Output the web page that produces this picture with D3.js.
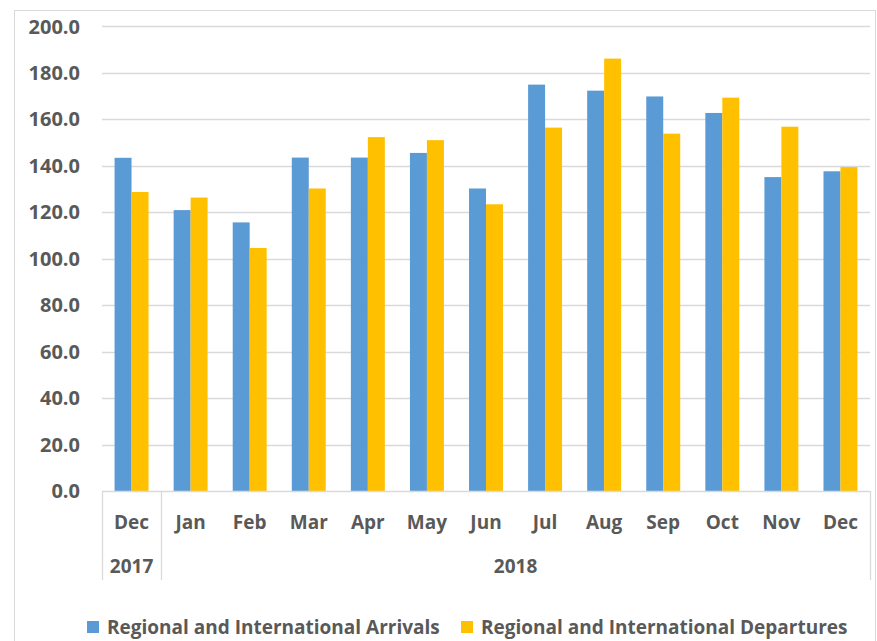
<!DOCTYPE html>
<html>
<head>
<meta charset="utf-8">
<script src="https://cdn.jsdelivr.net/npm/d3@7"></script>
<style>
  body { margin: 0; background: #fff; }
  svg text { font-family: "Open Sans", Lato, sans-serif; font-weight: bold; fill: #595959; }
</style>
</head>
<body>
<div id="chart"></div>
<script>
// data
var months = ["Dec", "Jan", "Feb", "Mar", "Apr", "May", "Jun", "Jul", "Aug", "Sep", "Oct", "Nov", "Dec"];
var years = [
  { label: "2017", first: 0, last: 0 },
  { label: "2018", first: 1, last: 12 }
];
var seriesNames = ["Regional and International Arrivals", "Regional and International Departures"];
var arrivals = [143.4, 120.9, 115.6, 143.5, 143.5, 145.5, 130.2, 174.9, 172.3, 169.8, 162.7, 135.1, 137.6];
var departures = [128.7, 126.3, 104.6, 130.2, 152.3, 151.0, 123.4, 156.4, 186.1, 153.8, 169.3, 156.8, 139.4];
var yTicks = [0, 20, 40, 60, 80, 100, 120, 140, 160, 180, 200];
var colors = ["#5B9BD5", "#FFC000"];

var W = 877, H = 641;
var plotLeft = 102, plotRight = 870, plotTop = 26.3, plotBottom = 491;
var gridColor = "#d9d9d9";
var fontSize = "19px";

var svg = d3.select("#chart").append("svg")
  .attr("width", W).attr("height", H);

// outer chart frame
svg.append("rect")
  .attr("x", 14.5).attr("y", 10.5)
  .attr("width", W - 16).attr("height", H)
  .attr("fill", "none").attr("stroke", gridColor);

var idx = months.map(function (d, i) { return i; });
var x0 = d3.scaleBand().domain(idx).range([plotLeft, plotRight]).padding(0);
var x1 = d3.scaleBand().domain([0, 1]).range([0, x0.bandwidth()])
  .paddingInner(0).paddingOuter(0.74);
var y = d3.scaleLinear().domain([0, 200]).range([plotBottom, plotTop]);

// gridlines
svg.append("g").selectAll("line")
  .data(yTicks.filter(function (d) { return d > 0; }))
  .enter().append("line")
  .attr("x1", plotLeft).attr("x2", plotRight)
  .attr("y1", function (d) { return Math.round(y(d)) + 0.5; })
  .attr("y2", function (d) { return Math.round(y(d)) + 0.5; })
  .attr("stroke", gridColor).attr("stroke-width", 1.3);

// y labels
svg.append("g").selectAll("text")
  .data(yTicks)
  .enter().append("text")
  .attr("x", 80)
  .attr("y", function (d) { return y(d); })
  .attr("dy", "0.36em")
  .attr("text-anchor", "end")
  .style("font-size", "20px")
  .text(function (d) { return d.toFixed(1); });

// bars
var series = [arrivals, departures];
series.forEach(function (vals, s) {
  svg.append("g").selectAll("rect")
    .data(vals)
    .enter().append("rect")
    .attr("x", function (d, i) { return x0(i) + x1(s); })
    .attr("y", function (d) { return y(d); })
    .attr("width", x1.bandwidth())
    .attr("height", function (d) { return y(0) - y(d); })
    .attr("fill", colors[s]);
});

// x axis line and category boxes
var axisBottom = 580;
svg.append("line")
  .attr("x1", plotLeft).attr("x2", plotRight)
  .attr("y1", plotBottom + 0.5).attr("y2", plotBottom + 0.5)
  .attr("stroke", gridColor).attr("stroke-width", 1.3);

var seps = [plotLeft];
years.forEach(function (yr) { seps.push(x0(yr.last) + x0.step()); });
svg.append("g").selectAll("line")
  .data(seps)
  .enter().append("line")
  .attr("x1", function (d) { return Math.round(d) + 0.5; })
  .attr("x2", function (d) { return Math.round(d) + 0.5; })
  .attr("y1", plotBottom).attr("y2", axisBottom)
  .attr("stroke", gridColor).attr("stroke-width", 1.3);

// month labels
svg.append("g").selectAll("text")
  .data(months)
  .enter().append("text")
  .attr("x", function (d, i) { return x0(i) + x0.bandwidth() / 2; })
  .attr("y", 529)
  .attr("text-anchor", "middle")
  .style("font-size", fontSize)
  .text(function (d) { return d; });

// year labels
svg.append("g").selectAll("text")
  .data(years)
  .enter().append("text")
  .attr("x", function (d) { return (x0(d.first) + x0(d.last) + x0.step()) / 2; })
  .attr("y", 573)
  .attr("text-anchor", "middle")
  .style("font-size", fontSize)
  .text(function (d) { return d.label; });

// legend
var legendX = [87, 461];
var legend = svg.append("g").selectAll("g")
  .data(seriesNames)
  .enter().append("g")
  .attr("transform", function (d, i) { return "translate(" + legendX[i] + ",621)"; });
legend.append("rect")
  .attr("width", 12).attr("height", 12)
  .attr("fill", function (d, i) { return colors[i]; });
legend.append("text")
  .attr("x", 20).attr("y", 13)
  .style("font-size", fontSize)
  .text(function (d) { return d; });
</script>
</body>
</html>
